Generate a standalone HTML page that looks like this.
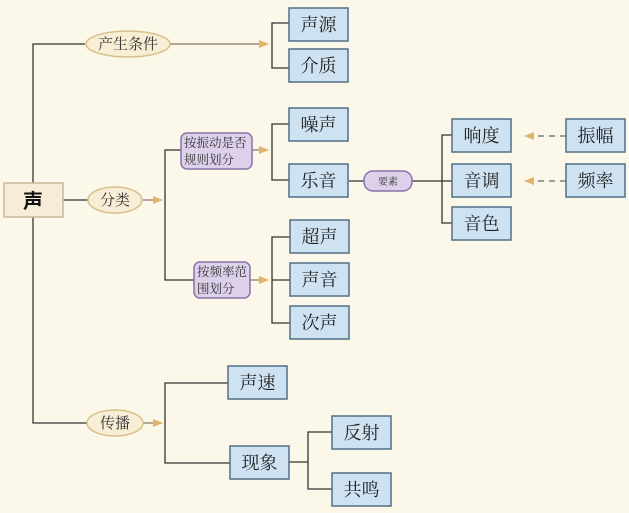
<!DOCTYPE html>
<html><head><meta charset="utf-8"><style>
html,body{margin:0;padding:0;background:#fcf8e9;}
svg{display:block;font-family:"Liberation Serif","Noto Serif CJK SC",serif;}
</style></head><body>
<svg width="629" height="513" viewBox="0 0 629 513" xmlns="http://www.w3.org/2000/svg">
<rect width="629" height="513" fill="#fcf8e9"/>
<defs>
<marker id="a" markerWidth="10" markerHeight="8" refX="9" refY="4" orient="auto" markerUnits="userSpaceOnUse">
<path d="M0,0 L10,4 L0,8 Z" fill="#e2b46a"/></marker>
</defs>
<g stroke="#333" stroke-width="1.3" fill="none">
<path d="M33,183 V44 H85"/>
<path d="M33,217 V423 H87"/>
<path d="M63,200 H88"/>
<path d="M170,44 H268" stroke="#8a7a60" marker-end="url(#a)"/>
<path d="M289,23 H272 V68 H289"/>
<path d="M143,200 H162" stroke="#8a7a60" marker-end="url(#a)"/>
<path d="M181,150 H165 V280 H194"/>
<path d="M252,150 H268" stroke="#8a7a60" marker-end="url(#a)"/>
<path d="M289,124 H272 V180 H289"/>
<path d="M250,280 H268" stroke="#8a7a60" marker-end="url(#a)"/>
<path d="M290,237 H272 V323 H290 M272,280 H290"/>
<path d="M349,181 H364 M412,181 H452"/>
<path d="M452,135 H442 V223 H452"/>
<path d="M143,423 H162" stroke="#8a7a60" marker-end="url(#a)"/>
<path d="M228,383 H165 V463 H230"/>
<path d="M289,462 H308 M332,432 H308 V489 H332"/>
</g>
<g stroke="#666" stroke-width="1.2" stroke-dasharray="6,5" fill="none">
<path d="M566,136 H525" marker-end="url(#a)"/>
<path d="M566,181 H525" marker-end="url(#a)"/>
</g>
<rect x="4" y="183" width="59" height="34" fill="#f7ecd8" stroke="#c9b898" stroke-width="1.5"/>
<text x="33" y="208" font-size="20" text-anchor="middle" font-weight="bold" fill="#111" font-family="Liberation Sans,Noto Sans CJK SC,sans-serif">声</text>
<g fill="#f8eed6" stroke="#d9c08a" stroke-width="1.5">
<ellipse cx="128" cy="44" rx="42" ry="13"/>
<ellipse cx="115" cy="200" rx="27" ry="13"/>
<ellipse cx="115" cy="423" rx="28" ry="13"/>
</g>
<g font-size="15" fill="#333" text-anchor="middle">
<text x="128" y="49">产生条件</text>
<text x="115" y="205">分类</text>
<text x="115" y="428">传播</text>
</g>
<g fill="#ddd0ea" stroke="#8a72a8" stroke-width="1.5">
<rect x="181" y="133" width="71" height="36" rx="6"/>
<rect x="194" y="262" width="56" height="36" rx="6"/>
<rect x="364" y="171" width="48" height="20" rx="9"/>
</g>
<g font-size="12.5" fill="#333">
<text x="184" y="147">按振动是否</text>
<text x="184" y="164">规则划分</text>
<text x="197" y="276">按频率范</text>
<text x="197" y="293">围划分</text>
<text x="388" y="185" text-anchor="middle" font-size="10">要素</text>
</g>
<g fill="#cfe2f1" stroke="#4f7188" stroke-width="1.5">
<rect x="289" y="8" width="59" height="33"/>
<rect x="289" y="49" width="59" height="33"/>
<rect x="289" y="108" width="59" height="33"/>
<rect x="289" y="164" width="59" height="33"/>
<rect x="290" y="220" width="59" height="33"/>
<rect x="290" y="263" width="59" height="33"/>
<rect x="290" y="306" width="59" height="33"/>
<rect x="452" y="119" width="59" height="33"/>
<rect x="452" y="164" width="59" height="33"/>
<rect x="452" y="207" width="59" height="33"/>
<rect x="566" y="119" width="59" height="33"/>
<rect x="566" y="164" width="59" height="33"/>
<rect x="228" y="366" width="59" height="33"/>
<rect x="230" y="446" width="59" height="33"/>
<rect x="332" y="416" width="59" height="33"/>
<rect x="332" y="473" width="59" height="33"/>
</g>
<g font-size="18" fill="#222" text-anchor="middle">
<text x="318.5" y="31">声源</text>
<text x="318.5" y="72">介质</text>
<text x="318.5" y="131">噪声</text>
<text x="318.5" y="187">乐音</text>
<text x="319.5" y="243">超声</text>
<text x="319.5" y="286">声音</text>
<text x="319.5" y="329">次声</text>
<text x="481.5" y="142">响度</text>
<text x="481.5" y="187">音调</text>
<text x="481.5" y="230">音色</text>
<text x="595.5" y="142">振幅</text>
<text x="595.5" y="187">频率</text>
<text x="257.5" y="389">声速</text>
<text x="259.5" y="469">现象</text>
<text x="361.5" y="439">反射</text>
<text x="361.5" y="496">共鸣</text>
</g>
</svg>
</body></html>
